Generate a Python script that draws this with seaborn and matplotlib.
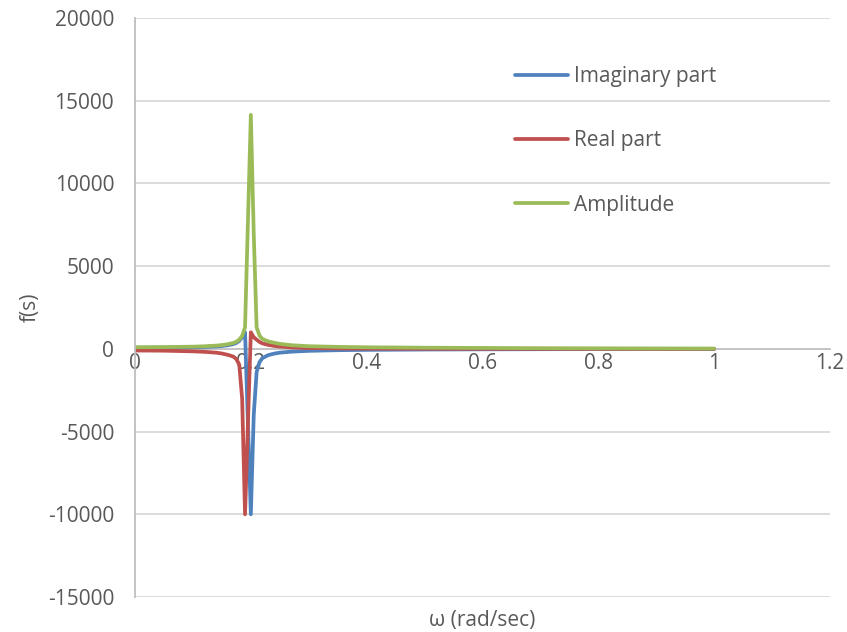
import matplotlib
matplotlib.use("Agg")
import matplotlib.pyplot as plt
import seaborn as sns
import pandas as pd

# Frequency samples (rad/sec)
omega = [0, 0.05, 0.1, 0.12, 0.14, 0.15, 0.16, 0.17, 0.175, 0.18, 0.185, 0.19,
         0.2, 0.205, 0.21, 0.215, 0.22, 0.23, 0.24, 0.25, 0.27, 0.3, 0.35, 0.4,
         0.5, 0.6, 0.7, 0.8, 0.9, 1.0]

imaginary_part = [60, 70, 95, 115, 150, 175, 215, 290, 360, 480, 700, 1000,
                  -10000, -4000, -1400, -800, -560, -380, -290, -230, -170, -120, -80, -60,
                  -40, -28, -20, -15, -12, -10]

real_part = [-100, -110, -150, -180, -230, -280, -360, -470, -620, -950, -3000, -10000,
             1000, 700, 560, 420, 330, 240, 180, 140, 90, 50, 25, 15,
             6, 3, 2, 1, 1, 0]

amplitude = [100, 107, 133, 156, 196, 229, 278, 360, 430, 560, 780, 1300,
             14142, 7000, 1300, 800, 600, 450, 370, 300, 220, 160, 120, 95,
             70, 55, 40, 30, 22, 18]

series_names = ["Imaginary part", "Real part", "Amplitude"]
series_colors = ["#4F81BD", "#C0504D", "#9BBB59"]

y_ticks = [-15000, -10000, -5000, 0, 5000, 10000, 15000, 20000]
x_ticks = [0, 0.2, 0.4, 0.6, 0.8, 1, 1.2]
x_tick_labels = ["0", "0.2", "0.4", "0.6", "0.8", "1", "1.2"]

df = pd.concat([
    pd.DataFrame({"omega": omega, "value": vals, "series": name})
    for name, vals in zip(series_names, [imaginary_part, real_part, amplitude])
], ignore_index=True)

sns.set_theme(style="white")
plt.rcParams["font.family"] = ["Open Sans", "DejaVu Sans"]

W, H = 847, 632
fig = plt.figure(figsize=(W / 100, H / 100), dpi=100)
ax = fig.add_axes([135 / W, 1 - 597 / H, (830 - 135) / W, (597 - 18) / H])

LW = 2.7
sns.lineplot(data=df, x="omega", y="value", hue="series", hue_order=series_names,
             palette=series_colors, sort=False, estimator=None, linewidth=LW,
             ax=ax, legend=False)
for ln in ax.get_lines():
    ln.set_solid_joinstyle("round")
    ln.set_solid_capstyle("round")

ax.set_xlim(0, 1.2)
ax.set_ylim(-15000, 20000)
ax.set_yticks(y_ticks)
ax.set_yticklabels([str(v) for v in y_ticks])
ax.set_xticks(x_ticks)
ax.set_xticklabels(x_tick_labels)

grid_color = "#D9D9D9"
for v in y_ticks:
    if v != 0:
        ax.axhline(v, color=grid_color, linewidth=1.3, zorder=0)

for side in ["top", "right"]:
    ax.spines[side].set_visible(False)
ax.spines["left"].set_color("#BFBFBF")
ax.spines["left"].set_linewidth(1.3)
ax.spines["bottom"].set_position(("data", 0))
ax.spines["bottom"].set_color("#BFBFBF")
ax.spines["bottom"].set_linewidth(1.3)
ax.spines["bottom"].set_zorder(0)

text_color = "#595959"
FS = 15
ax.tick_params(axis="both", length=0, labelsize=FS, labelcolor=text_color)
ax.tick_params(axis="y", pad=15)
ax.tick_params(axis="x", pad=3)

ax.set_xlabel("ω (rad/sec)", fontsize=FS, color=text_color, labelpad=0)
ax.xaxis.set_label_coords(0.5, -0.022)
ax.set_ylabel("f(s)", fontsize=FS, color=text_color)
ax.yaxis.set_label_coords(-0.135, 0.5)

handles = [plt.Line2D([], [], color=c, linewidth=LW, solid_capstyle="round")
           for c in series_colors]
leg = ax.legend(handles, series_names, loc="upper left",
                bbox_to_anchor=(515 / W, 1 - 66 / H), bbox_transform=fig.transFigure,
                frameon=False, fontsize=FS, handlelength=2.55, handletextpad=0.27,
                labelspacing=2.08, borderpad=0, borderaxespad=0)
for t in leg.get_texts():
    t.set_color(text_color)

fig.savefig("out.png", dpi=100, facecolor="white")
